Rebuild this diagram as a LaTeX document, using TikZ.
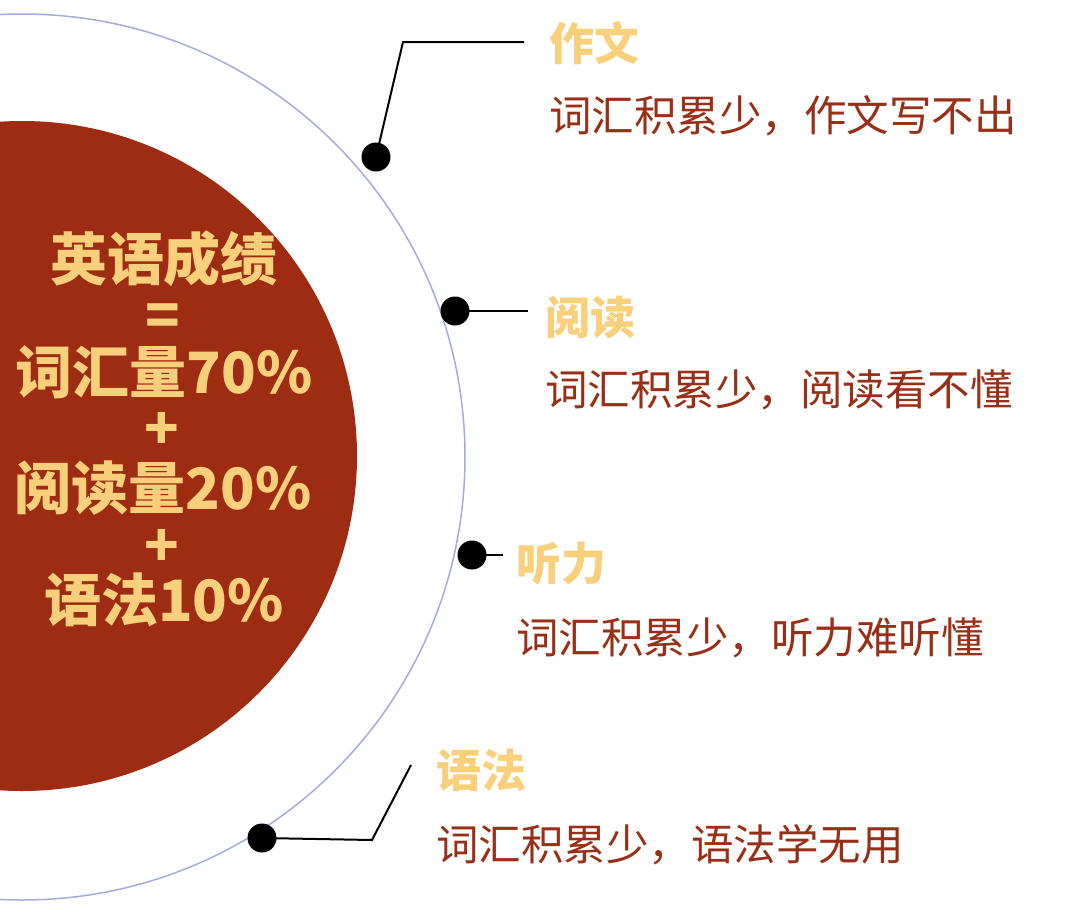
\documentclass[tikz,border=0pt]{standalone}
\usepackage{fontspec}
\setmainfont{Noto Sans CJK SC}
\definecolor{brick}{HTML}{9E2C12}
\definecolor{gold}{HTML}{F8D07C}
\definecolor{ringc}{HTML}{A3ACDB}
\definecolor{bodyc}{HTML}{983017}
\begin{document}
\begin{tikzpicture}[x=1pt,y=-1pt,
  dotnode/.style={circle,fill=black,inner sep=0pt,minimum size=29pt},
  lead/.style={line width=2pt,black},
  headt/.style={anchor=west,inner sep=0pt,text=gold,font=\fontsize{45}{50}\selectfont\bfseries},
  bodyt/.style={anchor=west,inner sep=0pt,text=bodyc,font=\fontsize{42.5}{50}\selectfont},
  centert/.style={inner sep=0pt,text=gold,font=\fontsize{57}{60}\selectfont\bfseries}]
\useasboundingbox[fill=white] (0,0) rectangle (1080,911);
\begin{scope}
\clip (0,0) rectangle (1080,911);
\draw[ringc,line width=1.5pt] (22,457) circle[radius=443pt];
\fill[brick] (22,456) circle[radius=335pt];
\end{scope}
% centre text
\node[centert] (t1) at (164,259) {英语成绩};
\node[centert] (t2) at (163,320) {=};
\node[centert] (t3) at (164,372) {词汇量70\%};
\node[centert] (t4) at (162,431) {+};
\node[centert] (t5) at (163,488) {阅读量20\%};
\node[centert] (t6) at (162,548) {+};
\node[centert] (t7) at (164,600) {语法10\%};
% dots
\node[dotnode] (d1) at (376,157) {};
\node[dotnode] (d2) at (455,311) {};
\node[dotnode] (d3) at (472,555) {};
\node[dotnode] (d4) at (262,838) {};
% leader ends
\coordinate (c1a) at (403,42);
\coordinate (c1b) at (524,42);
\coordinate (c2) at (528,311);
\coordinate (c3) at (503,555);
\coordinate (c4a) at (372,840);
\coordinate (c4b) at (411,765);
\draw[lead] (d1.center) -- (c1a) -- (c1b);
\draw[lead] (d2.center) -- (c2);
\draw[lead] (d3.center) -- (c3);
\draw[lead] (d4.center) -- (c4a) -- (c4b);
% labels
\node[headt] (h1) at (549,43) {作文};
\node[bodyt] (b1) at (549,116) {词汇积累少，作文写不出};
\node[headt] (h2) at (545,318) {阅读};
\node[bodyt] (b2) at (545,390) {词汇积累少，阅读看不懂};
\node[headt] (h3) at (516,564) {听力};
\node[bodyt] (b3) at (516,638) {词汇积累少，听力难听懂};
\node[headt] (h4) at (436,770) {语法};
\node[bodyt] (b4) at (436,845) {词汇积累少，语法学无用};
\end{tikzpicture}
\end{document}
